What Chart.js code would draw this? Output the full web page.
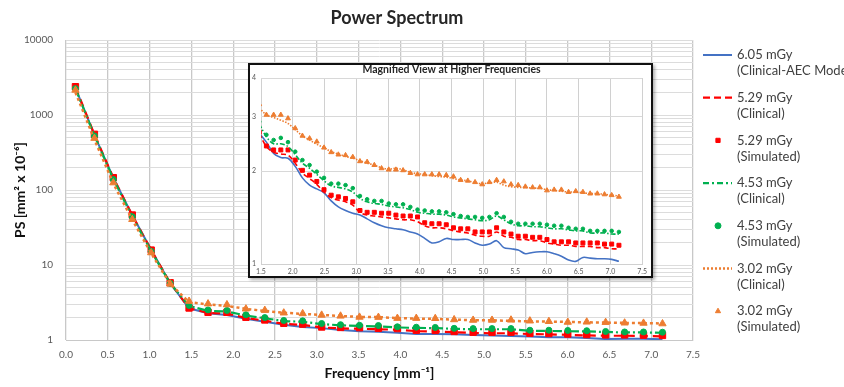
<!DOCTYPE html>
<html>
<head>
<meta charset="utf-8">
<script src="https://cdn.jsdelivr.net/npm/chart.js@4.4.1/dist/chart.umd.min.js"></script>
<style>
  html, body { margin: 0; padding: 0; background: #fff; }
  #wrap { position: relative; width: 844px; height: 387px; overflow: hidden; }
  #chart { position: absolute; left: 0; top: 0; }
  #inset { position: absolute; left: 248px; top: 63px; width: 405px; height: 215px; box-sizing: border-box;
           border: 2px solid #111; background: #fff; box-shadow: 2px 2px 3px rgba(0,0,0,0.3); }
  #insetChart { display: block; }
</style>
</head>
<body>
<div id="wrap">
  <canvas id="chart" width="844" height="387"></canvas>
  <div id="inset"><canvas id="insetChart" width="401" height="211"></canvas></div>
</div>
<script>
// ---- data: main chart (every sampled frequency, mm^-1) ----
const freqMain = [0.113, 0.340, 0.566, 0.793, 1.019, 1.246, 1.472, 1.699, 1.925, 2.152, 2.378, 2.605, 2.831, 3.058, 3.284, 3.511,
                  3.737, 3.964, 4.190, 4.417, 4.643, 4.870, 5.096, 5.323, 5.549, 5.776, 6.002, 6.229, 6.455, 6.682, 6.908, 7.135]
const blueMain = [2300, 540, 145, 46, 16, 5.7, 2.65, 2.28, 2.15, 1.92, 1.75, 1.60, 1.49, 1.44, 1.36, 1.31,
                  1.29, 1.25, 1.20, 1.20, 1.19, 1.17, 1.15, 1.13, 1.11, 1.09, 1.09, 1.06, 1.03, 1.04, 1.04, 1.02]
const redClinMain = [2350, 550, 146, 46, 15.8, 5.8, 2.65, 2.30, 2.25, 1.97, 1.81, 1.64, 1.59, 1.47, 1.43, 1.41,
                     1.39, 1.37, 1.31, 1.30, 1.27, 1.24, 1.23, 1.23, 1.20, 1.19, 1.17, 1.15, 1.14, 1.14, 1.13, 1.12]
const redSimMain = [2385, 553, 146, 46.4, 15.8, 5.8, 2.67, 2.34, 2.34, 2.01, 1.85, 1.67, 1.63, 1.49, 1.47, 1.46,
                    1.43, 1.42, 1.35, 1.34, 1.30, 1.27, 1.27, 1.27, 1.23, 1.22, 1.20, 1.18, 1.17, 1.17, 1.16, 1.15]
const greenClinMain = [2250, 530, 140, 44, 15.3, 5.7, 2.85, 2.45, 2.40, 2.12, 1.95, 1.79, 1.75, 1.63, 1.57, 1.54,
                       1.52, 1.47, 1.45, 1.44, 1.41, 1.39, 1.39, 1.39, 1.33, 1.32, 1.31, 1.30, 1.28, 1.26, 1.26, 1.25]
const greenSimMain = [2250, 525, 138, 44, 15.2, 5.7, 2.89, 2.52, 2.48, 2.17, 1.99, 1.82, 1.80, 1.66, 1.60, 1.57,
                      1.56, 1.50, 1.48, 1.47, 1.43, 1.42, 1.42, 1.42, 1.35, 1.35, 1.34, 1.33, 1.30, 1.28, 1.28, 1.27]
const orangeClinMain = [2000, 470, 122, 40, 14.3, 5.6, 3.20, 2.98, 2.85, 2.60, 2.44, 2.31, 2.23, 2.16, 2.09, 2.03,
                        2.02, 1.96, 1.93, 1.91, 1.87, 1.83, 1.83, 1.80, 1.77, 1.76, 1.74, 1.72, 1.71, 1.69, 1.68, 1.66]
const orangeSimMain = [2150, 490, 125, 40.6, 14.6, 5.6, 3.29, 3.04, 2.96, 2.60, 2.49, 2.30, 2.25, 2.15, 2.09, 2.02,
                       2.01, 1.95, 1.95, 1.94, 1.87, 1.84, 1.84, 1.85, 1.80, 1.77, 1.73, 1.74, 1.72, 1.69, 1.68, 1.65]

// ---- data: inset (finer sampling above 1.5 mm^-1) ----
const freqInset = [1.472, 1.585, 1.699, 1.812, 1.925, 2.039, 2.152, 2.265, 2.378, 2.492, 2.605, 2.718, 2.831, 2.945, 3.058, 3.171, 3.284,
                   3.398, 3.511, 3.624, 3.737, 3.851, 3.964, 4.077, 4.190, 4.304, 4.417, 4.530, 4.643, 4.756, 4.870, 4.983, 5.096,
                   5.209, 5.323, 5.436, 5.549, 5.662, 5.776, 5.889, 6.002, 6.115, 6.229, 6.342, 6.455, 6.568, 6.682, 6.795, 6.908,
                   7.021, 7.135]
const blueInset = [2.65, 2.48, 2.28, 2.21, 2.20, 2.07, 1.90, 1.80, 1.75, 1.70, 1.60, 1.53, 1.49, 1.46, 1.44, 1.40, 1.36,
                   1.33, 1.31, 1.30, 1.29, 1.27, 1.25, 1.21, 1.17, 1.18, 1.21, 1.20, 1.20, 1.20, 1.17, 1.15, 1.16,
                   1.19, 1.13, 1.12, 1.11, 1.08, 1.09, 1.095, 1.095, 1.08, 1.06, 1.03, 1.02, 1.05, 1.045, 1.04, 1.04,
                   1.035, 1.02]
const redClinInset = [2.65, 2.40, 2.30, 2.27, 2.25, 2.12, 1.97, 1.89, 1.81, 1.71, 1.64, 1.61, 1.59, 1.55, 1.47, 1.44, 1.43,
                      1.42, 1.41, 1.40, 1.39, 1.39, 1.37, 1.33, 1.31, 1.31, 1.30, 1.28, 1.27, 1.26, 1.24, 1.23, 1.23,
                      1.27, 1.23, 1.22, 1.20, 1.20, 1.19, 1.19, 1.17, 1.16, 1.15, 1.15, 1.14, 1.14, 1.14, 1.13, 1.13,
                      1.12, 1.12]
const redSimInset = [2.67, 2.41, 2.34, 2.34, 2.34, 2.17, 2.01, 1.94, 1.85, 1.74, 1.67, 1.65, 1.63, 1.59, 1.49, 1.47, 1.47,
                     1.46, 1.46, 1.44, 1.43, 1.43, 1.42, 1.36, 1.35, 1.35, 1.34, 1.31, 1.30, 1.30, 1.27, 1.27, 1.27,
                     1.31, 1.27, 1.25, 1.23, 1.23, 1.22, 1.22, 1.20, 1.18, 1.18, 1.18, 1.17, 1.17, 1.17, 1.17, 1.16,
                     1.16, 1.15]
const greenClinInset = [2.85, 2.58, 2.45, 2.45, 2.40, 2.26, 2.12, 2.04, 1.95, 1.86, 1.79, 1.77, 1.75, 1.71, 1.63, 1.59, 1.57,
                        1.56, 1.54, 1.53, 1.52, 1.50, 1.47, 1.46, 1.45, 1.45, 1.44, 1.42, 1.41, 1.40, 1.39, 1.38, 1.39,
                        1.43, 1.39, 1.35, 1.33, 1.33, 1.32, 1.32, 1.31, 1.30, 1.30, 1.29, 1.28, 1.28, 1.26, 1.26, 1.26,
                        1.25, 1.25]
const greenSimInset = [2.89, 2.62, 2.52, 2.56, 2.48, 2.31, 2.17, 2.09, 1.99, 1.90, 1.82, 1.82, 1.80, 1.76, 1.66, 1.62, 1.60,
                       1.60, 1.57, 1.56, 1.56, 1.53, 1.50, 1.49, 1.48, 1.48, 1.47, 1.45, 1.43, 1.42, 1.42, 1.41, 1.42,
                       1.46, 1.42, 1.37, 1.35, 1.35, 1.35, 1.35, 1.34, 1.33, 1.33, 1.31, 1.30, 1.30, 1.28, 1.28, 1.28,
                       1.28, 1.27]
const orangeClinInset = [3.20, 3.04, 2.98, 2.92, 2.85, 2.72, 2.60, 2.52, 2.44, 2.38, 2.31, 2.27, 2.23, 2.20, 2.16, 2.12, 2.09,
                         2.05, 2.03, 2.04, 2.02, 1.98, 1.96, 1.95, 1.93, 1.92, 1.91, 1.89, 1.87, 1.86, 1.83, 1.82, 1.83,
                         1.84, 1.80, 1.78, 1.77, 1.77, 1.76, 1.76, 1.74, 1.73, 1.72, 1.71, 1.71, 1.70, 1.69, 1.69, 1.68,
                         1.67, 1.66]
const orangeSimInset = [3.29, 3.04, 3.04, 3.04, 2.96, 2.75, 2.60, 2.55, 2.49, 2.38, 2.30, 2.26, 2.25, 2.22, 2.15, 2.14, 2.09,
                        2.04, 2.02, 2.02, 2.01, 1.97, 1.95, 1.95, 1.95, 1.95, 1.94, 1.92, 1.87, 1.86, 1.84, 1.81, 1.84,
                        1.87, 1.85, 1.81, 1.80, 1.78, 1.77, 1.77, 1.73, 1.74, 1.74, 1.71, 1.72, 1.71, 1.69, 1.69, 1.68,
                        1.67, 1.65]

const legendLabels = [
    ['6.05 mGy', '(Clinical-AEC Mode)'],
    ['5.29 mGy', '(Clinical)'],
    ['5.29 mGy', '(Simulated)'],
    ['4.53 mGy', '(Clinical)'],
    ['4.53 mGy', '(Simulated)'],
    ['3.02 mGy', '(Clinical)'],
    ['3.02 mGy', '(Simulated)']
]
const mainTitle = 'Power Spectrum'
const insetTitle = 'Magnified View at Higher Frequencies'
const xTitle = 'Frequency [mm\u207B\u00B9]'
const yTitle = 'PS [mm\u00B2 x 10\u207B\u2076]'

const BLUE = '#4472c4', RED = '#ff0000', GREEN = '#00b050', ORANGE = '#ed7d31'
const legendDash = [[], [7, 4], null, [6, 3, 2, 3], null, [2, 2], null]

Chart.defaults.font.family = 'Lato'
Chart.defaults.color = '#595959'

function pts(xs, ys) {
    return xs.map((x, i) => ({x: x, y: ys[i]}))
}

function lineSet(label, xs, ys, color, dash, width, order, tension) {
    return {label: label, data: pts(xs, ys), borderColor: color, backgroundColor: color, borderDash: dash,
            borderWidth: width, pointRadius: 0, tension: tension || 0, order: order}
}

function markSet(label, xs, ys, color, style, radius, order) {
    return {label: label, data: pts(xs, ys), showLine: false, borderColor: color, backgroundColor: color,
            pointStyle: style, pointRadius: radius, pointBorderWidth: 1, order: order}
}

function isDecade(v) {
    const l = Math.log10(v)
    return Math.abs(l - Math.round(l)) < 1e-9
}

// keep only 1..9 x 10^n ticks (drop the 1.5 x 10^n ones chart.js adds)
function keepWholeTicks(s) {
    s.ticks = s.ticks.filter(t => {
        const m = t.value / Math.pow(10, Math.floor(Math.log10(t.value) + 1e-9))
        return Math.abs(m - Math.round(m)) < 1e-6
    })
}

const sideLegend = {
    id: 'sideLegend',
    afterDraw(chart) {
        const ctx = chart.ctx
        ctx.save()
        ctx.fillStyle = '#262626'
        ctx.font = 'bold 18px Lato'
        ctx.textAlign = 'center'
        ctx.textBaseline = 'middle'
        ctx.fillText(mainTitle, 397, 18)

        ctx.font = '13px Lato'
        ctx.textAlign = 'left'
        chart.data.datasets.forEach((ds, i) => {
            const y = 55 + i * 42.7
            ctx.save()
            if (ds.showLine === false) {
                ctx.fillStyle = ds.backgroundColor
                ctx.strokeStyle = ds.borderColor
                Chart.helpers.drawPoint(ctx, {pointStyle: ds.pointStyle, radius: 3, borderWidth: 1}, 718, y)
            } else {
                ctx.strokeStyle = ds.borderColor
                ctx.lineWidth = ds.borderWidth
                ctx.setLineDash(legendDash[i] || [])
                ctx.beginPath()
                ctx.moveTo(703, y)
                ctx.lineTo(732, y)
                ctx.stroke()
            }
            ctx.restore()
            ctx.fillStyle = '#404040'
            legendLabels[i].forEach((t, k) => ctx.fillText(t, 737, y + k * 16))
        })
        ctx.restore()
    }
}

const mainChart = new Chart(document.getElementById('chart'), {
    type: 'line',
    data: {
        datasets: [
            lineSet('6.05 mGy (Clinical-AEC Mode)', freqMain, blueMain, BLUE, [], 2, 7),
            lineSet('5.29 mGy (Clinical)', freqMain, redClinMain, RED, [8, 5], 2.2, 6),
            markSet('5.29 mGy (Simulated)', freqMain, redSimMain, RED, 'rect', 4.5, 5),
            lineSet('4.53 mGy (Clinical)', freqMain, greenClinMain, GREEN, [9, 3, 2, 3], 2.2, 4),
            markSet('4.53 mGy (Simulated)', freqMain, greenSimMain, GREEN, 'circle', 3, 3),
            lineSet('3.02 mGy (Clinical)', freqMain, orangeClinMain, ORANGE, [3, 3], 2.5, 2),
            markSet('3.02 mGy (Simulated)', freqMain, orangeSimMain, ORANGE, 'triangle', 4.2, 1)
        ]
    },
    options: {
        responsive: false,
        animation: false,
        layout: {padding: {top: 40, right: 151, left: 0, bottom: 0}},
        plugins: {legend: {display: false}, tooltip: {enabled: false}, title: {display: false}},
        scales: {
            x: {
                type: 'linear', min: 0, max: 7.5,
                ticks: {stepSize: 0.5, autoSkip: false, maxRotation: 0, padding: 9, font: {size: 10},
                        callback: v => v.toFixed(1)},
                grid: {color: '#c8c8c8', lineWidth: 1.3, drawTicks: false},
                border: {color: '#c8c8c8'},
                title: {display: true, text: xTitle, color: '#111', font: {size: 14, weight: 'bold'}, padding: {top: 0, bottom: 5}},
                afterFit: s => { s.height = 47 }
            },
            y: {
                type: 'logarithmic', min: 1, max: 10000,
                afterBuildTicks: keepWholeTicks,
                ticks: {autoSkip: false, padding: 13, font: {size: 10}, callback: v => isDecade(v) ? String(v) : ''},
                grid: {color: '#dcdcdc', drawTicks: false},
                border: {display: false},
                title: {display: true, text: yTitle, color: '#111', font: {size: 14, weight: 'bold'}, padding: {top: 12, bottom: 0}},
                afterFit: s => { s.width = 66 }
            }
        }
    },
    plugins: [sideLegend]
})

const insetChart = new Chart(document.getElementById('insetChart'), {
    type: 'line',
    data: {
        datasets: [
            lineSet('6.05 mGy', freqInset, blueInset, BLUE, [], 1.6, 7, 0.35),
            lineSet('5.29 mGy clin', freqInset, redClinInset, RED, [5, 3], 1.6, 6, 0.35),
            markSet('5.29 mGy sim', freqInset, redSimInset, RED, 'rect', 2.8, 5),
            lineSet('4.53 mGy clin', freqInset, greenClinInset, GREEN, [5, 2, 1.5, 2], 1.6, 4, 0.35),
            markSet('4.53 mGy sim', freqInset, greenSimInset, GREEN, 'circle', 1.8, 3),
            lineSet('3.02 mGy clin', freqInset, orangeClinInset, ORANGE, [1.5, 1.5], 1.6, 2, 0.35),
            markSet('3.02 mGy sim', freqInset, orangeSimInset, ORANGE, 'triangle', 2.8, 1)
        ]
    },
    options: {
        responsive: false,
        animation: false,
        layout: {padding: {top: 0, right: 2, left: 0, bottom: 0}},
        plugins: {
            legend: {display: false}, tooltip: {enabled: false},
            title: {display: true, text: insetTitle, fullSize: false, color: '#262626',
                    font: {size: 10.5, weight: 'bold'}, padding: {top: -1.8, bottom: 2.2}}
        },
        scales: {
            x: {
                type: 'linear', min: 1.5, max: 7.5,
                ticks: {stepSize: 0.5, autoSkip: false, maxRotation: 0, padding: 4, font: {size: 7},
                        callback: v => v.toFixed(1)},
                grid: {color: '#d0d0d0', drawTicks: false},
                border: {color: '#d0d0d0'},
                afterFit: s => { s.height = 12 }
            },
            y: {
                type: 'logarithmic', min: 1, max: 4,
                afterBuildTicks: s => { s.ticks = s.ticks.filter(t => Math.abs(t.value - Math.round(t.value)) < 1e-6) },
                ticks: {autoSkip: false, padding: 5, font: {size: 7}, callback: v => String(v)},
                grid: {color: '#d8d8d8', drawTicks: false},
                border: {display: false},
                afterFit: s => { s.width = 11 }
            }
        }
    }
})
</script>
</body>
</html>
